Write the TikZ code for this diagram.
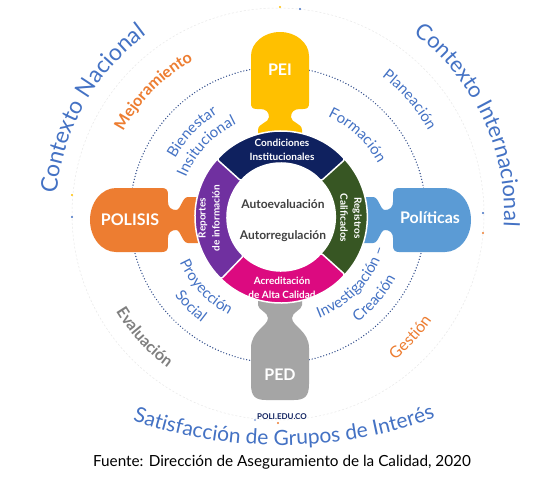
\documentclass[tikz,border=0pt]{standalone}
\usepackage{fontspec}
\setmainfont{Lato}
\usetikzlibrary{decorations.text}
\definecolor{ctxblue}{HTML}{4472C4}
\definecolor{orng}{HTML}{ED7D31}
\definecolor{gry}{HTML}{7F7F7F}
\definecolor{peiY}{HTML}{FFC000}
\definecolor{polO}{HTML}{ED7D31}
\definecolor{polB}{HTML}{5B9BD5}
\definecolor{pedG}{HTML}{A5A5A5}
\definecolor{navy}{HTML}{0F215F}
\definecolor{dgreen}{HTML}{375623}
\definecolor{mag}{HTML}{DC0A80}
\definecolor{purp}{HTML}{7030A0}
\definecolor{dotblue}{HTML}{2F4B8A}
\definecolor{ctr}{HTML}{404040}
\newcommand\cwtext[6]{%
  \pgfmathsetmacro\myS{#3+45}\pgfmathsetmacro\myE{#3-45}%
  \path[decorate,decoration={text along path,text align=center,text color=#4,text={|#5|#6}}]
    #1 ++(\myS:#2) arc[start angle=\myS,end angle=\myE,radius=#2];}
\newcommand\ccwtext[6]{%
  \pgfmathsetmacro\myS{#3-45}\pgfmathsetmacro\myE{#3+45}%
  \path[decorate,decoration={text along path,text align=center,text color=#4,text={|#5|#6}}]
    #1 ++(\myS:#2) arc[start angle=\myS,end angle=\myE,radius=#2];}
\newcommand\ringseg[3]{%
  \path[fill=#3,draw=white,line width=1.5pt,rounded corners=2pt]
    (#1:86) arc[start angle=#1,end angle=#2,radius=86] -- (#2:54)
    arc[start angle=#2,end angle=#1,radius=54] -- cycle;}
\begin{document}
\begin{tikzpicture}[x=1pt,y=1pt,
  piecelbl/.style={text=white,font=\fontsize{16}{16}\selectfont\bfseries},
  ringlbl/.style={text=white,align=center,font=\fontsize{10}{14}\selectfont\bfseries},
  ctrlbl/.style={text=ctr,font=\fontsize{12}{12}\selectfont\bfseries},
  smalldot/.style={circle,inner sep=0pt,minimum size=2.4pt}]
\useasboundingbox (-280,-264) rectangle (271,216);
\fill[white] (-280,-264) rectangle (271,216);
% outer faint circle
\draw[black!9,line width=0.5pt,dash pattern=on 2pt off 2pt] (-2,2) circle[radius=206];
\node[smalldot,fill=peiY] (d1) at (0,209) {};
\node[smalldot,fill=ctxblue] (d2) at (20,207) {};
\node[smalldot,fill=peiY] (d3) at (-208,21) {};
\node[smalldot,fill=ctxblue] (d4) at (-208,-1) {};
\node[smalldot,fill=ctxblue] (d5) at (203,3) {};
\node[smalldot,fill=orng] (d6) at (203,-17) {};
\node[smalldot,fill=ctxblue!60] (d7) at (-25,-204) {};
\node[smalldot,fill=orng] (d8) at (-2,-207) {};
% dotted circle
\draw[dotblue,line width=1.4pt,line cap=round,dash pattern=on 0pt off 3pt] (-2,1) circle[radius=148];
% PEI
\fill[peiY] (-22,70) -- (-22,86) .. controls (-22,93) and (-11,93) .. (-11,99)
  .. controls (-11,104) and (-14,107) .. (-20,107) -- (-23,107)
  .. controls (-28,107) and (-29,109) .. (-29,113) -- (-29,160)
  arc[start angle=180,end angle=0,x radius=29,y radius=24] -- (29,113)
  .. controls (29,109) and (28,107) .. (23,107) -- (20,107)
  .. controls (14,107) and (11,104) .. (11,99) .. controls (11,93) and (22,93) .. (22,86)
  -- (22,70) -- cycle;
% POLISIS
\fill[polO] (-80,19) -- (-92,19) .. controls (-98,19) and (-99,6) .. (-104,6)
  .. controls (-109,6) and (-112,9) .. (-112,14) -- (-112,22)
  .. controls (-112,26) and (-114,28) .. (-118,28) -- (-164,28)
  arc[start angle=90,end angle=270,x radius=26,y radius=32] -- (-118,-36)
  .. controls (-114,-36) and (-112,-34) .. (-112,-30) -- (-112,-22)
  .. controls (-112,-17) and (-109,-14) .. (-104,-14)
  .. controls (-99,-14) and (-98,-27) .. (-92,-27) -- (-80,-27) -- cycle;
% Politicas
\begin{scope}[xscale=-1,shift={(-1,0)}]
\fill[polB] (-80,19) -- (-92,19) .. controls (-98,19) and (-99,6) .. (-104,6)
  .. controls (-109,6) and (-112,9) .. (-112,14) -- (-112,22)
  .. controls (-112,26) and (-114,28) .. (-118,28) -- (-164,28)
  arc[start angle=90,end angle=270,x radius=26,y radius=32] -- (-118,-36)
  .. controls (-114,-36) and (-112,-34) .. (-112,-30) -- (-112,-22)
  .. controls (-112,-17) and (-109,-14) .. (-104,-14)
  .. controls (-99,-14) and (-98,-27) .. (-92,-27) -- (-80,-27) -- cycle;
\end{scope}
% PED
\fill[pedG] (-22,-75) -- (-22,-89) .. controls (-22,-94) and (-12,-96) .. (-12,-102)
  .. controls (-12,-110) and (-29,-115) .. (-29,-132) -- (-29,-168)
  .. controls (-29,-180) and (-25,-184) .. (-14,-184) -- (14,-184)
  .. controls (25,-184) and (29,-180) .. (29,-168) -- (29,-132)
  .. controls (29,-115) and (12,-110) .. (12,-102)
  .. controls (12,-96) and (22,-94) .. (22,-89) -- (22,-75) -- cycle;
% ring
\begin{scope}[shift={(1,-1)}]
\ringseg{-44}{44}{dgreen}
\ringseg{222}{318}{mag}
\ringseg{134}{226}{purp}
\ringseg{42}{138}{navy}
\end{scope}
% ring labels
\node[ringlbl] (cond) at (2,66) {Condiciones\\Institucionales};
\node[ringlbl,rotate=-90] (reg) at (71,-2) {Registros\\Calificados};
\node[ringlbl] (acr) at (2,-72) {Acreditación\\de Alta Calidad};
\node[ringlbl,rotate=90] (rep) at (-71,-2) {Reportes\\de información};
\node[ctrlbl] (autoev) at (3,12) {Autoevaluación};
\node[ctrlbl] (autorr) at (3,-20) {Autorregulación};
% piece labels
\node[piecelbl] (pei) at (0,146) {PEI};
\node[piecelbl] (polisis) at (-150,-4) {POLISIS};
\node[piecelbl] (politicas) at (150,-2) {Políticas};
\node[piecelbl] (ped) at (0,-159) {PED};
\node[text=navy,font=\fontsize{8}{8}\selectfont\bfseries] (poli) at (2,-201) {POLI.EDU.CO};
% outer curved texts
\cwtext{(-2,2)}{222}{150.5}{ctxblue}{\fontsize{23}{23}\selectfont}{Contexto Nacional}
\cwtext{(-2,2)}{226}{25}{ctxblue}{\fontsize{22}{22}\selectfont}{Contexto Internacional}
\path[decorate,decoration={text along path,text align=center,text color=ctxblue,
  text={|\fontsize{21}{21}\selectfont|Satisfacción de Grupos de Interés}}]
  (0,2) ++(200:330 and 231) arc[start angle=200,end angle=342,x radius=330,y radius=231];
% middle band texts
\cwtext{(-2,2)}{175}{135.5}{orng}{\fontsize{16}{16}\selectfont\bfseries}{Mejoramiento}
\cwtext{(-2,2)}{172}{41}{ctxblue}{\fontsize{15}{15}\selectfont}{Planeación}
\ccwtext{(-2,2)}{189}{222.6}{gry}{\fontsize{16}{16}\selectfont\bfseries}{Evaluación}
\ccwtext{(-2,2)}{187}{317}{orng}{\fontsize{16}{16}\selectfont}{Gestión}
% inner band texts
\cwtext{(1,-1)}{121}{136.3}{ctxblue}{\fontsize{15}{15}\selectfont}{Bienestar}
\cwtext{(1,-1)}{103}{136.5}{ctxblue}{\fontsize{15}{15}\selectfont}{Insitucional}
\cwtext{(1,-1)}{111}{47}{ctxblue}{\fontsize{15}{15}\selectfont}{Formación}
\ccwtext{(1,-1)}{111}{223}{ctxblue}{\fontsize{15}{15}\selectfont}{Proyección}
\ccwtext{(1,-1)}{132}{224.7}{ctxblue}{\fontsize{15}{15}\selectfont}{Social}
\ccwtext{(1,-1)}{108}{317}{ctxblue}{\fontsize{15}{15}\selectfont}{Investigación –}
\ccwtext{(1,-1)}{130}{319}{ctxblue}{\fontsize{15}{15}\selectfont}{Creación}
% caption
\node[text=black,font=\fontsize{15.3}{15.3}\selectfont] (caption) at (2,-246) {Fuente: Dirección de Aseguramiento de la Calidad, 2020};
\end{tikzpicture}
\end{document}
